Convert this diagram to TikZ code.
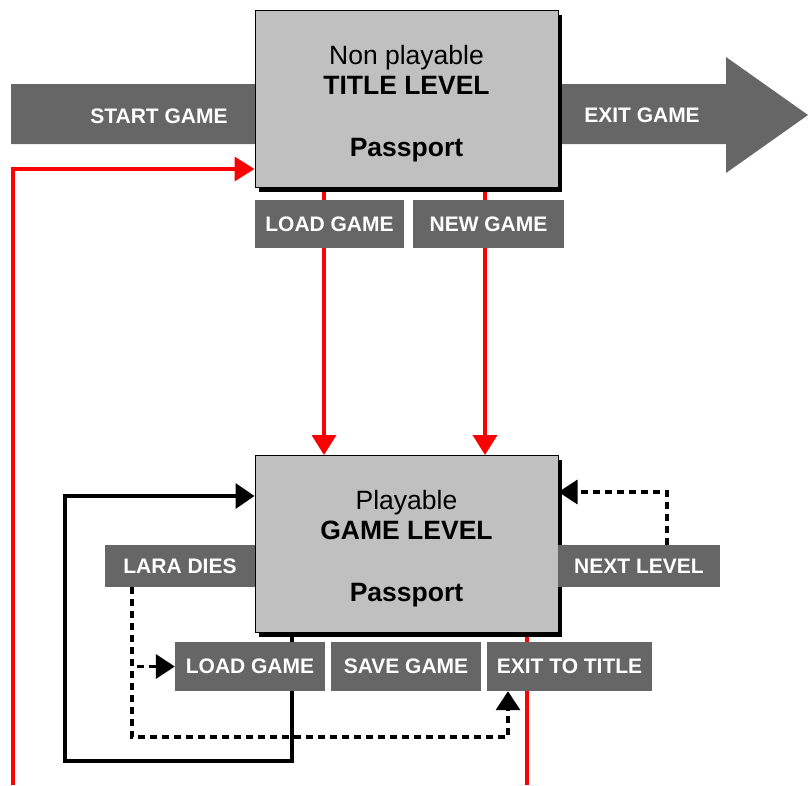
\documentclass[tikz,border=0pt]{standalone}
\usepackage{fontspec}
\setmainfont{Liberation Sans}
\usetikzlibrary{arrows.meta,shadows}

\pgfdeclarelayer{background}
\pgfsetlayers{background,main}

\definecolor{boxgray}{HTML}{C0C0C0}
\definecolor{taggray}{HTML}{666666}

\tikzset{
	level/.style={draw=black, line width=1pt, fill=boxgray, minimum width=303pt, minimum height=177pt, align=center, font=\fontsize{26.5}{30}\selectfont, drop shadow={shadow xshift=4pt, shadow yshift=-4pt, fill=black, opacity=1}},
	tag/.style={fill=taggray, text=white, inner sep=0pt, minimum height=48pt, font=\fontsize{21}{24}\selectfont\bfseries},
	bandtext/.style={text=white, inner sep=0pt, font=\fontsize{21}{24}\selectfont\bfseries},
	redflow/.style={draw=red, line width=3.5pt, -{Triangle[length=20pt,width=24pt]}},
	redline/.style={draw=red, line width=3.5pt},
	blackflow/.style={draw=black, line width=3.5pt, -{Triangle[length=19pt,width=25pt]}},
	dotflow/.style={draw=black, line width=3.5pt, dash pattern=on 7pt off 5pt, -{Triangle[length=19pt,width=24pt]}}
}

\begin{document}
\begin{tikzpicture}[x=1pt, y=-1pt]
	\useasboundingbox (0,0) rectangle (808,785);

	\node[level] (title) at (406.5,99) {\rule{0pt}{29pt}Non playable\\\textbf{TITLE LEVEL}\\[32pt]\textbf{Passport}};
	\node[level] (game) at (406.5,544) {\rule{0pt}{29pt}Playable\\\textbf{GAME LEVEL}\\[32pt]\textbf{Passport}};

	\node[bandtext] (startG) at (159,116) {START GAME};
	\node[bandtext] (exitT) at (642,115) {EXIT GAME};

	\node[tag, minimum width=149pt] (loadT) at (329.5,224) {LOAD GAME};
	\node[tag, minimum width=151pt] (newT) at (488.5,224) {NEW GAME};
	\node[tag, minimum width=150pt, minimum height=42pt] (lara) at (180,566) {LARA DIES};
	\node[tag, minimum width=162pt, minimum height=42pt] (next) at (639,566) {NEXT LEVEL};
	\node[tag, minimum width=150pt, minimum height=49pt] (loadG) at (250,666.5) {LOAD GAME};
	\node[tag, minimum width=150pt, minimum height=49pt] (saveG) at (406,666.5) {SAVE GAME};
	\node[tag, minimum width=165pt, minimum height=49pt] (exitG) at (569.5,666.5) {EXIT TO TITLE};

	\coordinate (titleloop) at (13,785);
	\coordinate (gamedrop) at (527,785);
	\coordinate (loopcorner) at (65,761);
	\coordinate (deathcorner) at (132,737);

	\begin{pgfonlayer}{background}
		\fill[taggray] (11,84) -- (726,84) -- (726,57) -- (808,115) -- (726,173) -- (726,144) -- (11,144) -- cycle;
		\draw[redflow] ([xshift=-82.5pt]title.south) -- ([xshift=-82.5pt]game.north);
		\draw[redflow] ([xshift=78.5pt]title.south) -- ([xshift=78.5pt]game.north);
		\draw[redflow] (titleloop) |- ([yshift=-70pt]title.west);
		\draw[redline] (game.south -| gamedrop) -- (gamedrop);
		\draw[blackflow] ([xshift=-114.5pt]game.south) |- (loopcorner) |- ([yshift=48pt]game.west);
	\end{pgfonlayer}

	\draw[dotflow] ([xshift=28pt]next.north) |- ([yshift=52pt]game.east);
	\draw[dotflow] ([xshift=-48pt]lara.south) |- (loadG.west);
	\draw[dotflow] ([xshift=-48pt]lara.south) -- (deathcorner) -| ([xshift=-61.5pt]exitG.south);
\end{tikzpicture}
\end{document}
